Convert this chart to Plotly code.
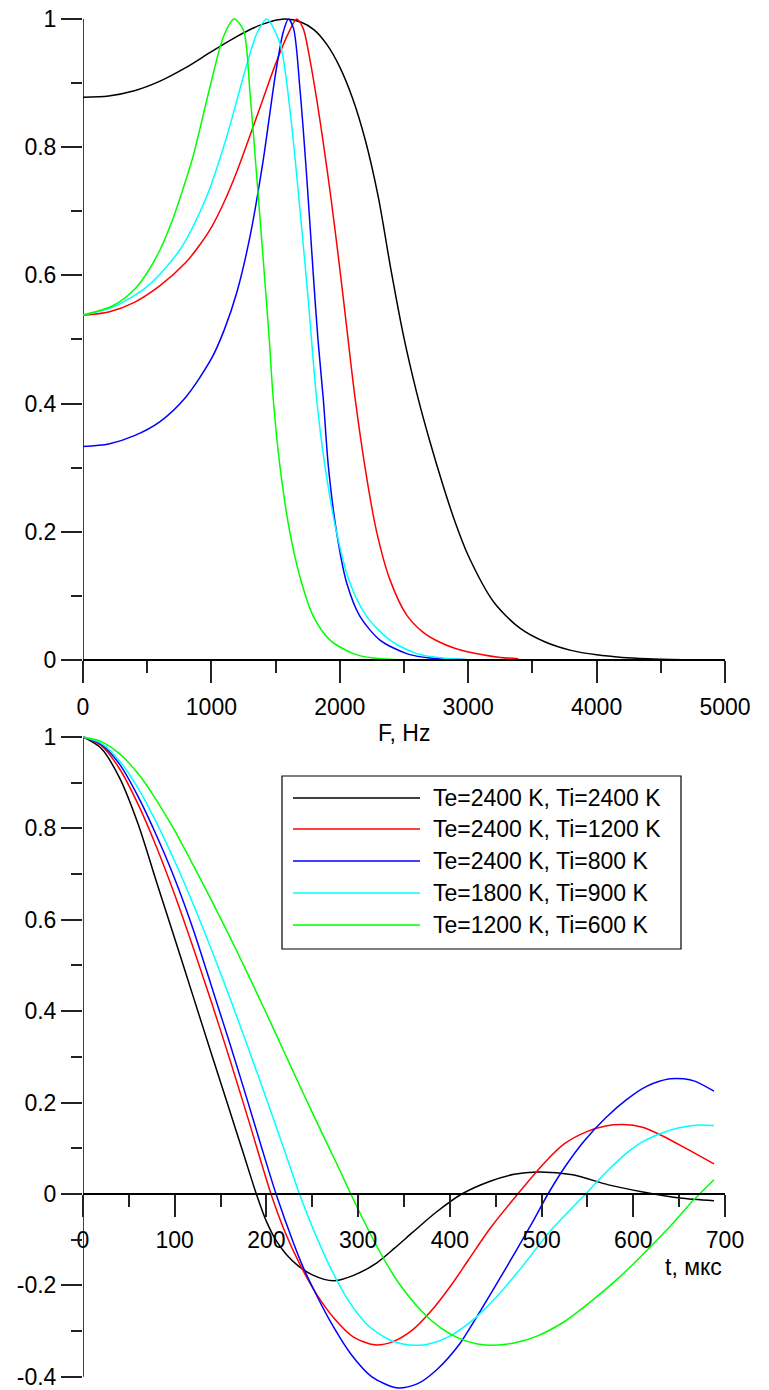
import plotly.graph_objects as go

W, H = 769, 1390

# ---------------- data ----------------
series_names = ["Te=2400 K, Ti=2400 K", "Te=2400 K, Ti=1200 K", "Te=2400 K, Ti=800 K",
                "Te=1800 K, Ti=900 K", "Te=1200 K, Ti=600 K"]
series_colors = ["#000000", "#ff0000", "#0000ff", "#00ffff", "#00ff00"]

# Spectra (top panel): frequency, Hz -> normalized spectrum
F_black = [0, 200, 400, 600, 800, 1000, 1200, 1400, 1570, 1700, 1800, 1900, 2000, 2100, 2200, 2300, 2400,
           2500, 2600, 2700, 2800, 2900, 3000, 3200, 3400, 3600, 3800, 4000, 4200, 4400, 4673]
S_black = [0.878, 0.880, 0.888, 0.903, 0.924, 0.949, 0.973, 0.992, 1.0, 0.995, 0.983, 0.96, 0.925, 0.876,
           0.81, 0.722, 0.607, 0.502, 0.416, 0.342, 0.275, 0.214, 0.163, 0.09, 0.05, 0.028, 0.015, 0.008,
           0.004, 0.002, 0.0005]

F_red = [0, 200, 400, 600, 800, 900, 1000, 1100, 1200, 1300, 1400, 1500, 1600, 1664, 1715, 1768, 1820,
         1872, 1925, 1976, 2030, 2118, 2209, 2287, 2391, 2521, 2650, 2755, 2900, 3092, 3250, 3390]
S_red = [0.538, 0.543, 0.558, 0.584, 0.62, 0.645, 0.675, 0.715, 0.763, 0.818, 0.874, 0.93, 0.978, 1.0,
         0.985, 0.936, 0.875, 0.806, 0.73, 0.65, 0.56, 0.41, 0.285, 0.2, 0.125, 0.07, 0.043, 0.03, 0.018,
         0.009, 0.004, 0.002]

F_blue = [0, 200, 400, 600, 800, 1000, 1100, 1200, 1300, 1400, 1500, 1560, 1600, 1640, 1690, 1742,
          1794, 1830, 1872, 1911, 1976, 2054, 2157, 2313, 2521, 2702, 3000]
S_blue = [0.333, 0.337, 0.35, 0.372, 0.41, 0.47, 0.515, 0.575, 0.66, 0.775, 0.915, 0.98, 1.0, 0.985,
          0.89, 0.755, 0.6, 0.5, 0.406, 0.302, 0.198, 0.12, 0.068, 0.031, 0.010, 0.003, 0.0005]

F_cyan = [0, 236, 496, 755, 963, 1119, 1249, 1353, 1430, 1534, 1612, 1690, 1755, 1820, 1885, 1976, 2079,
          2209, 2391, 2599, 2800, 3000]
S_cyan = [0.538, 0.551, 0.582, 0.64, 0.723, 0.816, 0.91, 0.977, 1.0, 0.962, 0.858, 0.702, 0.56, 0.406,
          0.302, 0.198, 0.12, 0.068, 0.031, 0.010, 0.003, 0.0005]

F_green = [0, 236, 400, 496, 600, 703, 800, 859, 989, 1093, 1176, 1249, 1301, 1353, 1404, 1451, 1482, 1534,
           1612, 1703, 1794, 1924, 2105, 2261, 2500, 3000, 4000, 5000]
S_green = [0.538, 0.553, 0.578, 0.603, 0.64, 0.69, 0.748, 0.787, 0.894, 0.972, 1.0, 0.983, 0.884, 0.754,
           0.624, 0.499, 0.406, 0.302, 0.198, 0.12, 0.068, 0.031, 0.010, 0.003, 0.0, 0.0, 0.0, 0.0]

# Correlation functions (bottom panel): lag, us -> normalized ACF
t_black = [0, 20, 40, 60, 80, 100, 120, 140, 160, 175, 189, 200, 210, 222, 234, 250, 273, 295, 320, 340,
           360, 385, 413, 444, 470, 495, 534, 573, 612, 651, 688]
R_black = [1.0, 0.975, 0.91, 0.81, 0.684, 0.559, 0.433, 0.307, 0.182, 0.088, 0.0, -0.06, -0.1, -0.133,
           -0.156, -0.177, -0.19, -0.178, -0.151, -0.118, -0.083, -0.04, 0.0, 0.028, 0.043, 0.048, 0.042,
           0.020, 0.004, -0.009, -0.015]

t_red = [0, 20, 40, 60, 80, 100, 120, 140, 160, 180, 205, 220, 238, 255, 273, 295, 318, 338, 359, 380,
         402, 420, 444, 474, 503, 525, 550, 570, 589, 610, 632, 660, 688]
R_red = [1.0, 0.981, 0.93, 0.853, 0.76, 0.655, 0.54, 0.42, 0.295, 0.165, 0.0, -0.082, -0.16, -0.22,
         -0.27, -0.313, -0.33, -0.323, -0.298, -0.255, -0.198, -0.145, -0.075, 0.0, 0.068, 0.11, 0.137,
         0.149, 0.152, 0.146, 0.127, 0.097, 0.066]

t_blue = [0, 20, 40, 60, 80, 100, 120, 144, 160, 180, 195, 210.5, 230, 240, 253, 270, 292, 315, 343, 365,
          386, 410, 429, 450, 472, 490, 507, 525, 546, 570, 593, 615, 640, 655, 667, 688]
R_blue = [1.0, 0.984, 0.94, 0.87, 0.785, 0.69, 0.58, 0.43, 0.33, 0.2, 0.1, 0.0, -0.11, -0.16, -0.215,
          -0.28, -0.35, -0.4, -0.4245, -0.415, -0.384, -0.33, -0.27, -0.2, -0.125, -0.062, 0.0, 0.058,
          0.115, 0.167, 0.207, 0.236, 0.252, 0.252, 0.247, 0.225]

t_cyan = [0, 20, 40, 60, 80, 100, 120, 140, 160, 180, 200, 218, 236, 250, 269, 290, 312, 340, 368, 395,
          425, 450, 476, 510, 548, 570, 593, 610, 632, 650, 671, 688]
R_cyan = [1.0, 0.986, 0.947, 0.888, 0.813, 0.728, 0.635, 0.535, 0.43, 0.32, 0.208, 0.105, 0.0, -0.072,
          -0.158, -0.235, -0.29, -0.324, -0.331, -0.316, -0.276, -0.227, -0.166, -0.08, 0.0, 0.047, 0.09,
          0.114, 0.134, 0.145, 0.151, 0.150]

t_green = [0, 20, 40, 60, 80, 100, 120, 140, 160, 180, 200, 220, 240, 260, 280, 292, 305, 324, 345, 370,
           390, 410, 430, 448, 470, 495, 525, 554, 585, 612, 640, 665, 688]
R_green = [1.0, 0.99, 0.963, 0.92, 0.862, 0.795, 0.72, 0.643, 0.563, 0.48, 0.395, 0.308, 0.221, 0.136,
           0.052, 0.0, -0.054, -0.128, -0.197, -0.258, -0.293, -0.316, -0.328, -0.331, -0.326, -0.311,
           -0.279, -0.235, -0.182, -0.129, -0.071, -0.015, 0.031]

spec_F = [F_black, F_red, F_blue, F_cyan, F_green]
spec_S = [S_black, S_red, S_blue, S_cyan, S_green]
acf_t = [t_black, t_red, t_blue, t_cyan, t_green]
acf_R = [R_black, R_red, R_blue, R_cyan, R_green]

top_xticks = [0, 1000, 2000, 3000, 4000, 5000]
top_xlabels = ["0", "1000", "2000", "3000", "4000", "5000"]
top_yticks = [0, 0.2, 0.4, 0.6, 0.8, 1.0]
top_ylabels = ["0", "0.2", "0.4", "0.6", "0.8", "1"]
bot_xticks = [0, 100, 200, 300, 400, 500, 600, 700]
bot_xlabels = ["0", "100", "200", "300", "400", "500", "600", "700"]
bot_yticks = [-0.4, -0.2, 0, 0.2, 0.4, 0.6, 0.8, 1.0]
bot_ylabels = ["-0.4", "-0.2", "0", "0.2", "0.4", "0.6", "0.8", "1"]

# ---------------- layout helpers (pixel -> paper fraction) ----------------
def fx(p):
    return p / W

def fy(p):
    return 1 - p / H

FONT = "Arial, Liberation Sans, sans-serif"
FS = 23

# top panel: y=0 at 660 px, y=1 at 19 px
top_pad = 0.012
top_ppu = 641.0
top_rng = [-top_pad, 1 + top_pad]
top_dom = [fy(660 + top_pad * top_ppu), fy(19 - top_pad * top_ppu)]
# bottom panel: y=0 at 1194 px, y=1 at 737 px
bot_ppu = 457.0
bot_lo = -(H - 1194) / bot_ppu
bot_hi = 1.012
bot_rng = [bot_lo, bot_hi]
bot_dom = [0.0, fy(1194 - bot_hi * bot_ppu)]
x_dom = [fx(83), fx(725)]

fig = go.Figure()
for n, c, f, s in zip(series_names, series_colors, spec_F, spec_S):
    fig.add_trace(go.Scatter(x=f, y=s, mode="lines", name=n, showlegend=False,
                             line=dict(color=c, width=1.5, shape="spline", smoothing=0.8),
                             xaxis="x", yaxis="y", hoverinfo="skip"))
for n, c, t, r in zip(series_names, series_colors, acf_t, acf_R):
    fig.add_trace(go.Scatter(x=t, y=r, mode="lines", name=n, showlegend=False,
                             line=dict(color=c, width=1.5, shape="spline", smoothing=0.8),
                             xaxis="x2", yaxis="y2", hoverinfo="skip"))

tick_common = dict(ticks="outside", tickwidth=1.5, tickcolor="#222", showgrid=False, zeroline=False,
                   automargin=False, tickfont=dict(family=FONT, size=FS, color="#000"))

fig.update_layout(
    width=W, height=H, margin=dict(l=0, r=0, t=0, b=0, pad=0, autoexpand=False),
    paper_bgcolor="white", plot_bgcolor="white", showlegend=False,
    xaxis=dict(domain=x_dom, range=[0, 5000], anchor="free", position=fy(660),
               tickvals=top_xticks, ticktext=top_xlabels, ticklen=22, showline=True,
               linecolor="#000", linewidth=1.5, ticklabelstandoff=5,
               minor=dict(dtick=500, ticklen=12, ticks="outside", tickwidth=1.5, tickcolor="#222"),
               **tick_common),
    yaxis=dict(domain=top_dom, range=top_rng, anchor="x",
               tickvals=top_yticks, ticktext=top_ylabels, ticklen=21, showline=False,
               minor=dict(dtick=0.1, ticklen=11, ticks="outside", tickwidth=1.5, tickcolor="#222"),
               **tick_common),
    xaxis2=dict(domain=x_dom, range=[0, 700], anchor="free", position=fy(1194),
                tickvals=bot_xticks, ticktext=bot_xlabels, ticklen=22, showline=True,
                linecolor="#000", linewidth=1.5, ticklabelstandoff=4,
                minor=dict(dtick=50, ticklen=12, ticks="outside", tickwidth=1.5, tickcolor="#222"),
                **tick_common),
    yaxis2=dict(domain=bot_dom, range=bot_rng, anchor="x2",
                tickvals=bot_yticks, ticktext=bot_ylabels, ticklen=21, showline=False,
                minor=dict(dtick=0.1, ticklen=11, ticks="outside", tickwidth=1.5, tickcolor="#222"),
                **tick_common),
)

# y axis lines (ending at the last labelled tick)
fig.add_shape(type="line", xref="x", yref="y", x0=0, x1=0, y0=0, y1=1,
              line=dict(color="#000", width=1.5), layer="below")
fig.add_shape(type="line", xref="x2", yref="y2", x0=0, x1=0, y0=-0.4, y1=1,
              line=dict(color="#000", width=1.5), layer="below")

# axis titles
fig.add_annotation(text="F, Hz", xref="paper", yref="paper", x=fx(404), y=fy(733),
                   xanchor="center", yanchor="middle", showarrow=False,
                   font=dict(family=FONT, size=FS, color="#000"))
fig.add_annotation(text="t, мкс", xref="paper", yref="paper", x=fx(724), y=fy(1267),
                   xanchor="right", yanchor="middle", showarrow=False,
                   font=dict(family=FONT, size=FS, color="#000"))

# legend box drawn by hand (long line samples)
fig.add_shape(type="rect", xref="paper", yref="paper", x0=fx(282), x1=fx(681), y0=fy(949), y1=fy(776),
              line=dict(color="#000", width=1.2), fillcolor="white", layer="above")
row_y = [798, 829, 861, 893, 925]
for n, c, ry in zip(series_names, series_colors, row_y):
    fig.add_shape(type="line", xref="paper", yref="paper", x0=fx(293), x1=fx(420), y0=fy(ry), y1=fy(ry),
                  line=dict(color=c, width=1.5), layer="above")
    fig.add_annotation(text=n, xref="paper", yref="paper", x=fx(431), y=fy(ry),
                       xanchor="left", yanchor="middle", showarrow=False,
                       font=dict(family=FONT, size=FS, color="#000"))

fig.write_html("out.html")
